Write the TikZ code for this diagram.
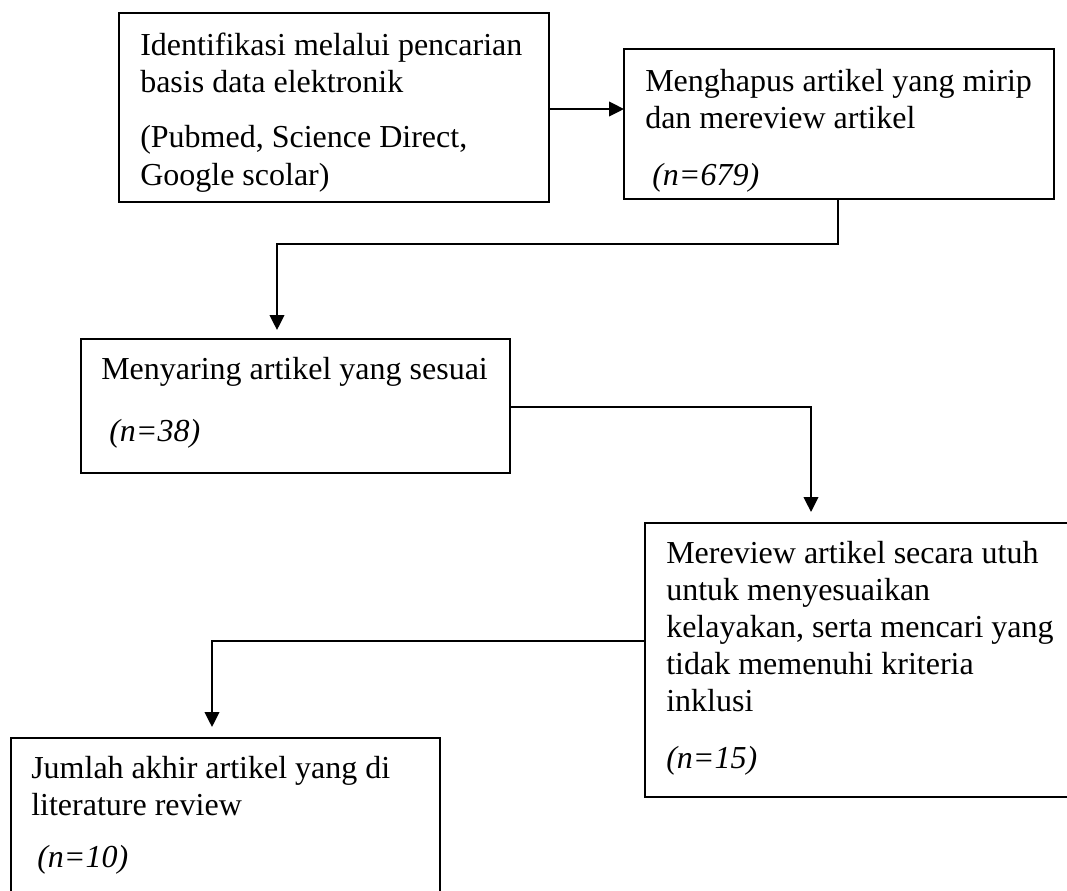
\documentclass[tikz,border=0pt]{standalone}
\usepackage{fontspec}
\setmainfont{Liberation Serif}
\usetikzlibrary{arrows.meta}
\tikzset{
  box/.style={draw, line width=1.2pt, inner sep=0pt, outer sep=0pt, anchor=north west},
  txt/.style={anchor=base west, inner sep=0pt, font=\fontsize{24}{28}\selectfont},
  ntxt/.style={txt, font=\fontsize{24}{28}\selectfont\itshape},
  arr/.style={line width=1.2pt, -{Triangle[length=11.25pt,width=11pt]}}
}
\begin{document}
\begin{tikzpicture}[x=0.75pt,y=-0.75pt]
\useasboundingbox (0,0) rectangle (1067,890);
\clip (0,0) rectangle (1067,890);
% boxes
\node[box, minimum width=322.5pt, minimum height=141.75pt] (b1) at (119,13) {};
\node[box, minimum width=322.5pt, minimum height=112.5pt] (b2) at (624,49) {};
\node[box, minimum width=321.75pt, minimum height=100.5pt] (b3) at (81,339) {};
\node[box, minimum width=322.5pt, minimum height=205.5pt] (b4) at (645,523) {};
\node[box, minimum width=321.75pt, minimum height=120pt] (b5) at (11,738) {};
% texts box 1
\node[txt] (t11) at (140,55) {Identifikasi melalui pencarian};
\node[txt] (t12) at (140,92) {basis data elektronik};
\node[txt] (t13) at (140,147) {(Pubmed, Science Direct,};
\node[txt] (t14) at (140,185) {Google scolar)};
% box 2
\node[txt] (t21) at (645,91) {Menghapus artikel yang mirip};
\node[txt] (t22) at (645,128) {dan mereview artikel};
\node[ntxt] (t23) at (652,185) {(n=679)};
% box 3
\node[txt] (t31) at (101,379) {Menyaring artikel yang sesuai};
\node[ntxt] (t32) at (109,441) {(n=38)};
% box 4
\node[txt] (t41) at (666,563) {Mereview artikel secara utuh};
\node[txt] (t42) at (666,600) {untuk menyesuaikan};
\node[txt] (t43) at (666,637) {kelayakan, serta mencari yang};
\node[txt] (t44) at (666,674) {tidak memenuhi kriteria};
\node[txt] (t45) at (666,711) {inklusi};
\node[ntxt] (t46) at (666,768) {(n=15)};
% box 5
\node[txt] (t51) at (31,778) {Jumlah akhir artikel yang di};
\node[txt] (t52) at (31,815) {literature review};
\node[ntxt] (t53) at (37,867) {(n=10)};
% connector points
\coordinate (a1) at (0,109);
\coordinate (k2) at (838,244);
\coordinate (e2) at (277,330);
\coordinate (k3) at (811,407);
\coordinate (e3) at (811,512);
\coordinate (k4) at (212,641);
\coordinate (e4) at (212,727);
% connectors
\draw[arr] (b1.east |- a1) -- (b2.west |- a1);
\draw[arr] (b2.south -| k2) -- (k2) -| (e2);
\draw[arr] (b3.east |- k3) -| (e3);
\draw[arr] (b4.west |- k4) -| (e4);
\end{tikzpicture}
\end{document}
